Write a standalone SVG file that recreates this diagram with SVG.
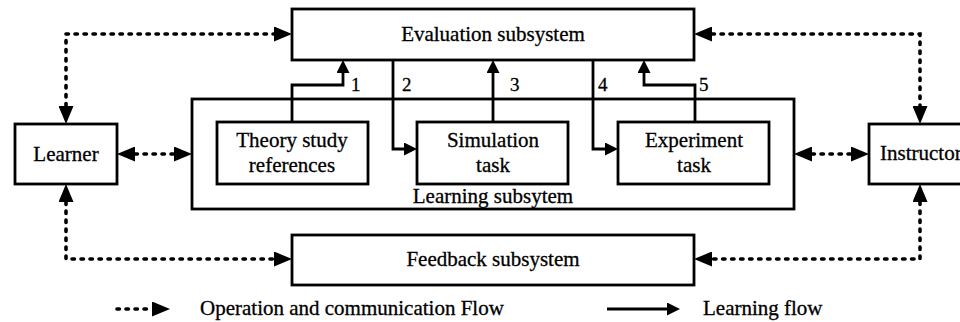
<svg xmlns="http://www.w3.org/2000/svg" width="960" height="322" viewBox="0 0 960 322">
<style>
.box{fill:#fff;stroke:#000;stroke-width:2.8}
.t{font-family:"Liberation Serif","Times New Roman",serif;font-size:21px;fill:#000;stroke:#000;stroke-width:0.3;text-anchor:middle}
.n{font-family:"Liberation Serif","Times New Roman",serif;font-size:19px;fill:#000;stroke:#000;stroke-width:0.3}
.lg{font-family:"Liberation Serif","Times New Roman",serif;font-size:21px;fill:#000;stroke:#000;stroke-width:0.3}
.dot{fill:none;stroke:#000;stroke-width:3.6;stroke-linecap:round;stroke-dasharray:2.4 6.6}
.sol{fill:none;stroke:#000;stroke-width:2.8}
</style>
<defs>
<marker id="dh" viewBox="0 0 18 15" refX="0" refY="7.5" markerWidth="18" markerHeight="15" markerUnits="userSpaceOnUse" orient="auto-start-reverse"><path d="M0,0 L18,7.5 L0,15 z" fill="#000"/></marker>
<marker id="sh" viewBox="0 0 13 13" refX="0" refY="6.5" markerWidth="13" markerHeight="13" markerUnits="userSpaceOnUse" orient="auto"><path d="M0,0 L13,6.5 L0,13 z" fill="#000"/></marker>
</defs>
<g id="evaluation"><rect class="box" x="292" y="9" width="402" height="51"/><text class="t" x="493" y="41">Evaluation subsystem</text></g>
<g id="learning"><rect class="box" x="192" y="99" width="602" height="110"/><text class="t" x="493" y="203">Learning subsytem</text></g>
<g id="feedback"><rect class="box" x="292" y="235" width="402" height="50"/><text class="t" x="493" y="266">Feedback subsystem</text></g>
<g id="learner"><rect class="box" x="15" y="124" width="102" height="60"/><text class="t" x="66" y="161">Learner</text></g>
<g id="instructor"><rect class="box" x="869" y="124" width="110" height="60"/><text class="lg" x="880" y="160">Instructor</text></g>
<g id="theory"><rect class="box" x="217" y="122" width="151" height="62"/><text class="t" x="292" y="147">Theory study</text><text class="t" x="292" y="172">references</text></g>
<g id="simulation"><rect class="box" x="417" y="122" width="151" height="62"/><text class="t" x="493" y="147">Simulation</text><text class="t" x="493" y="172">task</text></g>
<g id="experiment"><rect class="box" x="618" y="122" width="151" height="62"/><text class="t" x="694" y="147">Experiment</text><text class="t" x="694" y="172">task</text></g>
<g id="connectors">
<path class="dot" d="M66,106 L66,34 L274,34" marker-start="url(#dh)" marker-end="url(#dh)"/>
<path class="dot" d="M712,34 L920,34 L920,106" marker-start="url(#dh)" marker-end="url(#dh)"/>
<path class="dot" d="M66,202 L66,259 L274,259" marker-start="url(#dh)" marker-end="url(#dh)"/>
<path class="dot" d="M920,202 L920,259 L712,259" marker-start="url(#dh)" marker-end="url(#dh)"/>
<path class="dot" d="M135,154 L174,154" marker-start="url(#dh)" marker-end="url(#dh)"/>
<path class="dot" d="M812,154 L851,154" marker-start="url(#dh)" marker-end="url(#dh)"/>
<path class="sol" d="M292,122 L292,85 L343,85 L343,73" marker-end="url(#sh)"/>
<path class="sol" d="M393,60 L393,149 L404,149" marker-end="url(#sh)"/>
<path class="sol" d="M493,122 L493,73" marker-end="url(#sh)"/>
<path class="sol" d="M593,60 L593,149 L605,149" marker-end="url(#sh)"/>
<path class="sol" d="M695,122 L695,85 L644,85 L644,73" marker-end="url(#sh)"/>
<text class="n" x="351" y="91">1</text>
<text class="n" x="402" y="91">2</text>
<text class="n" x="510" y="91">3</text>
<text class="n" x="598" y="91">4</text>
<text class="n" x="699" y="91">5</text>
</g>
<g id="legend">
<path class="dot" d="M117,309 L152,309" marker-end="url(#dh)"/>
<text class="lg" x="200" y="315">Operation and communication Flow</text>
<path class="sol" d="M607,309 L667,309" marker-end="url(#sh)"/>
<text class="lg" x="703" y="315">Learning flow</text>
</g>
</svg>
